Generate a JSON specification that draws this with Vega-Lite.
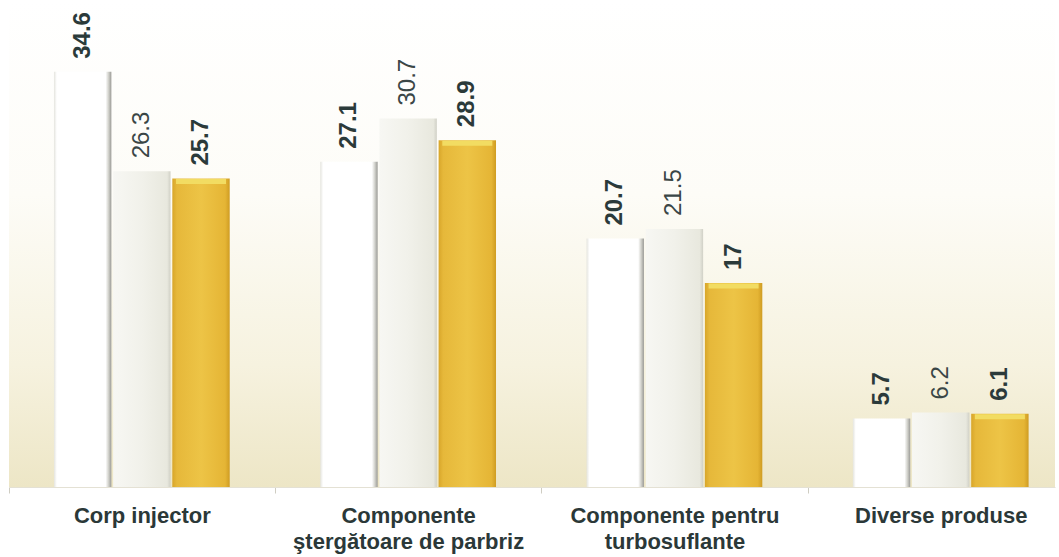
{
  "$schema": "https://vega.github.io/schema/vega-lite/v6.json",
  "width": 1046,
  "height": 487,
  "autosize": {"type": "none"},
  "padding": {"left": 9, "top": 0, "right": 4, "bottom": 70},
  "background": "white",
  "config": {"view": {"stroke": null}},
  "data": {"values": [
    {"categorie": "Corp injector", "serie": "Seria 1", "valoare": 34.6},
    {"categorie": "Corp injector", "serie": "Seria 2", "valoare": 26.3},
    {"categorie": "Corp injector", "serie": "Seria 3", "valoare": 25.7},
    {"categorie": "Componente ştergătoare de parbriz", "serie": "Seria 1", "valoare": 27.1},
    {"categorie": "Componente ştergătoare de parbriz", "serie": "Seria 2", "valoare": 30.7},
    {"categorie": "Componente ştergătoare de parbriz", "serie": "Seria 3", "valoare": 28.9},
    {"categorie": "Componente pentru turbosuflante", "serie": "Seria 1", "valoare": 20.7},
    {"categorie": "Componente pentru turbosuflante", "serie": "Seria 2", "valoare": 21.5},
    {"categorie": "Componente pentru turbosuflante", "serie": "Seria 3", "valoare": 17},
    {"categorie": "Diverse produse", "serie": "Seria 1", "valoare": 5.7},
    {"categorie": "Diverse produse", "serie": "Seria 2", "valoare": 6.2},
    {"categorie": "Diverse produse", "serie": "Seria 3", "valoare": 6.1}
  ]},
  "layer": [
    {
      "data": {"values": [{}]},
      "mark": {"type": "rect", "fill": {"gradient": "linear", "x1": 0, "y1": 0, "x2": 0, "y2": 1, "stops": [
        {"offset": 0, "color": "#ffffff"},
        {"offset": 0.4, "color": "#fdfcf7"},
        {"offset": 0.75, "color": "#f6f2df"},
        {"offset": 1, "color": "#ede6c6"}
      ]}},
      "encoding": {
        "x": {"value": 0}, "x2": {"value": "width"},
        "y": {"value": 0}, "y2": {"value": "height"}
      }
    },
    {
      "encoding": {
        "x": {
          "field": "categorie", "type": "nominal", "sort": null,
          "scale": {"domain": ["Corp injector", "Componente ştergătoare de parbriz", "Componente pentru turbosuflante", "Diverse produse"], "paddingInner": 0.34, "paddingOuter": 0.134, "align": 0.63},
          "axis": {
            "title": null, "labelAngle": 0, "domainColor": "#e4e1d4", "tickColor": "#cfcdc2",
            "tickSize": 6, "tickBand": "center", "tickOffset": -133, "labelOffset": 133, "labelPadding": 12,
            "labelFont": "Liberation Sans", "labelFontSize": 22, "labelFontWeight": "bold",
            "labelColor": "#2b3838", "labelLineHeight": 26, "labelLimit": 0, "labelOverlap": false,
            "labelExpr": "datum.label == 'Componente ştergătoare de parbriz' ? ['Componente', 'ştergătoare de parbriz'] : datum.label == 'Componente pentru turbosuflante' ? ['Componente pentru', 'turbosuflante'] : datum.label"
          }
        },
        "xOffset": {"field": "serie", "type": "nominal", "scale": {"domain": ["Seria 1", "Seria 2", "Seria 3"], "paddingInner": 0.03, "paddingOuter": 0}},
        "y": {"field": "valoare", "type": "quantitative", "scale": {"domain": [0, 40.58], "nice": false}, "axis": null}
      },
      "layer": [
        {
          "transform": [{"filter": "datum.serie == 'Seria 1'"}],
          "mark": {"type": "bar", "fill": {"gradient": "linear", "x1": 0, "y1": 0, "x2": 1, "y2": 0, "stops": [
            {"offset": 0, "color": "#e4e4de"},
            {"offset": 0.05, "color": "#ffffff"},
            {"offset": 0.9, "color": "#ffffff"},
            {"offset": 0.95, "color": "#d2d2cc"},
            {"offset": 1, "color": "#9a9a96"}
          ]}}
        },
        {
          "transform": [{"filter": "datum.serie == 'Seria 2'"}],
          "mark": {"type": "bar", "fill": {"gradient": "linear", "x1": 0, "y1": 0, "x2": 1, "y2": 0, "stops": [
            {"offset": 0, "color": "#f7f7f3"},
            {"offset": 0.5, "color": "#f1f1ea"},
            {"offset": 0.94, "color": "#e8e8de"},
            {"offset": 1, "color": "#d0d0c6"}
          ]}}
        },
        {
          "transform": [{"filter": "datum.serie == 'Seria 3'"}],
          "mark": {"type": "bar", "fill": {"gradient": "linear", "x1": 0, "y1": 0, "x2": 1, "y2": 0, "stops": [
            {"offset": 0, "color": "#d8a62a"},
            {"offset": 0.08, "color": "#e6b83a"},
            {"offset": 0.5, "color": "#edc446"},
            {"offset": 0.92, "color": "#e5b535"},
            {"offset": 1, "color": "#cf9c22"}
          ]}}
        },
        {
          "transform": [{"filter": "datum.serie == 'Seria 3'"}],
          "mark": {"type": "tick", "orient": "horizontal", "thickness": 5, "yOffset": 3, "size": 50, "color": "#f2dc62", "opacity": 1}
        },
        {
          "transform": [{"filter": "datum.serie != 'Seria 2'"}],
          "mark": {"type": "text", "angle": 270, "align": "left", "baseline": "middle", "dx": 13, "font": "Liberation Sans", "fontSize": 24, "fontWeight": "bold", "fill": "#2b3a3a"},
          "encoding": {"text": {"field": "valoare", "type": "quantitative"}}
        },
        {
          "transform": [{"filter": "datum.serie == 'Seria 2'"}],
          "mark": {"type": "text", "angle": 270, "align": "left", "baseline": "middle", "dx": 13, "font": "Liberation Sans", "fontSize": 24, "fontWeight": "normal", "fill": "#3a4646"},
          "encoding": {"text": {"field": "valoare", "type": "quantitative"}}
        }
      ]
    }
  ]
}
